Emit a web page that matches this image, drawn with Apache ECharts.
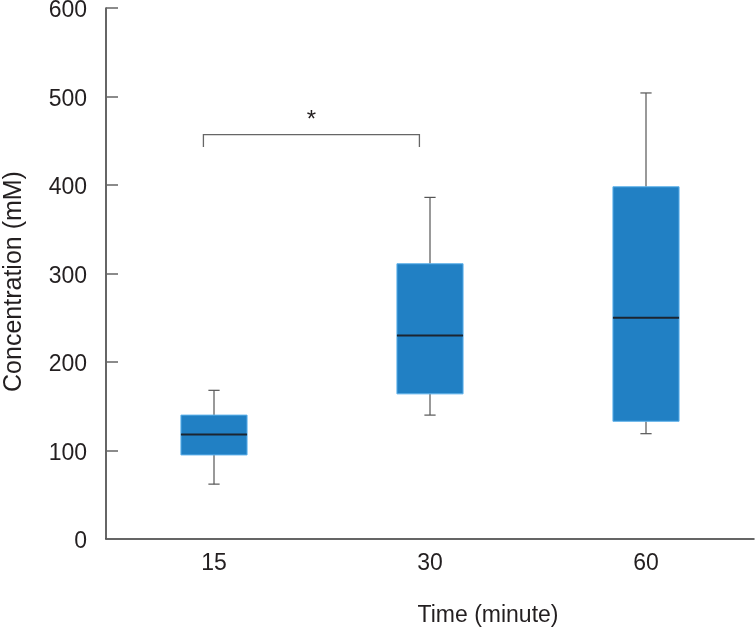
<!DOCTYPE html>
<html>
<head>
<meta charset="utf-8">
<script src="https://cdn.jsdelivr.net/npm/echarts@6/dist/echarts.min.js"></script>
<style>html,body{margin:0;padding:0;background:#fff}#c{width:755px;height:633px}</style>
</head>
<body>
<div id="c"></div>
<script>
const categories = ['15', '30', '60'];
const minVals = [62, 140, 119];
const q1Vals = [95, 164, 133];
const medianVals = [118, 230, 250];
const q3Vals = [140, 311, 398];
const maxVals = [168, 386, 504];
const bracketFrom = 0;
const bracketTo = 1;
const bracketTop = 457;
const bracketBottom = 443;
const bracketLabel = '*';

const boxData = categories.map((c, i) => [i, minVals[i], q1Vals[i], medianVals[i], q3Vals[i], maxVals[i]]);
const bracketData = [[bracketFrom, bracketTo, bracketTop, bracketBottom]];

const FONT = '"Liberation Sans", Arial, Helvetica, sans-serif';
const chart = echarts.init(document.getElementById('c'));

function renderBox(params, api) {
  const x = api.value(0);
  const bw = api.size([1, 0])[0];
  const half = bw * 0.153;
  const cap = bw * 0.026;
  const pMin = api.coord([x, api.value(1)]);
  const pQ1 = api.coord([x, api.value(2)]);
  const pMed = api.coord([x, api.value(3)]);
  const pQ3 = api.coord([x, api.value(4)]);
  const pMax = api.coord([x, api.value(5)]);
  const cx = pMed[0];
  const wStyle = { stroke: '#555', lineWidth: 1.2, fill: null };
  return {
    type: 'group',
    children: [
      { type: 'line', shape: { x1: cx, y1: pMax[1], x2: cx, y2: pQ3[1] }, style: wStyle },
      { type: 'line', shape: { x1: cx - cap, y1: pMax[1], x2: cx + cap, y2: pMax[1] }, style: wStyle },
      { type: 'line', shape: { x1: cx, y1: pMin[1], x2: cx, y2: pQ1[1] }, style: wStyle },
      { type: 'line', shape: { x1: cx - cap, y1: pMin[1], x2: cx + cap, y2: pMin[1] }, style: wStyle },
      { type: 'rect', shape: { x: cx - half, y: pQ3[1], width: half * 2, height: pQ1[1] - pQ3[1] },
        style: { fill: '#2180c4', stroke: '#5cb0ea', lineWidth: 1 } },
      { type: 'line', shape: { x1: cx - half, y1: pMed[1], x2: cx + half, y2: pMed[1] },
        style: { stroke: '#1c2530', lineWidth: 2 } }
    ]
  };
}

function renderBracket(params, api) {
  const bw = api.size([1, 0])[0];
  const off = -bw * 0.049;
  const a = api.coord([api.value(0), api.value(2)]);
  const b = api.coord([api.value(1), api.value(2)]);
  const aL = api.coord([api.value(0), api.value(3)]);
  const bL = api.coord([api.value(1), api.value(3)]);
  const x1 = a[0] + off, x2 = b[0] + off;
  return {
    type: 'group',
    children: [
      { type: 'polyline', shape: { points: [[x1, aL[1]], [x1, a[1]], [x2, b[1]], [x2, bL[1]]] },
        style: { stroke: '#666', lineWidth: 1.3, fill: null } },
      { type: 'text', x: (x1 + x2) / 2, y: a[1] - 14,
        style: { text: bracketLabel, fill: '#231f20', font: '24px ' + FONT, align: 'center', verticalAlign: 'middle' } }
    ]
  };
}

chart.setOption({
  animation: false,
  backgroundColor: '#fff',
  grid: { left: 106, right: 1, top: 8, bottom: 94, containLabel: false, outerBoundsMode: 'none' },
  xAxis: {
    type: 'category',
    data: categories,
    boundaryGap: true,
    name: 'Time (minute)',
    nameLocation: 'middle',
    nameGap: 65,
    nameTextStyle: { fontFamily: FONT, fontSize: 23, color: '#231f20', padding: [0, 0, 0, 116] },
    axisLine: { lineStyle: { color: '#333', width: 1.5 } },
    axisTick: { inside: true, length: 10, lineStyle: { color: '#555', width: 1 } },
    axisLabel: { margin: 13, fontFamily: FONT, fontSize: 23, color: '#231f20' },
    splitLine: { show: false }
  },
  yAxis: {
    type: 'value',
    min: 0, max: 600, interval: 100,
    name: 'Concentration (mM)',
    nameLocation: 'middle',
    nameGap: 79,
    nameRotate: 90,
    nameTextStyle: { fontFamily: FONT, fontSize: 25, color: '#231f20', padding: [0, 16, 0, 0] },
    axisLine: { show: true, lineStyle: { color: '#333', width: 1.5 } },
    axisTick: { show: true, inside: true, length: 12, lineStyle: { color: '#666', width: 1.5 } },
    axisLabel: { margin: 19, fontFamily: FONT, fontSize: 23, color: '#231f20', verticalAlign: 'top', lineHeight: 6 },
    splitLine: { show: false }
  },
  series: [
    { type: 'custom', renderItem: renderBox, data: boxData, encode: { x: 0, y: [1, 2, 3, 4, 5] }, z: 2 },
    { type: 'custom', renderItem: renderBracket, data: bracketData, encode: { x: [0, 1], y: [2, 3] }, z: 3 }
  ]
});
</script>
</body>
</html>
